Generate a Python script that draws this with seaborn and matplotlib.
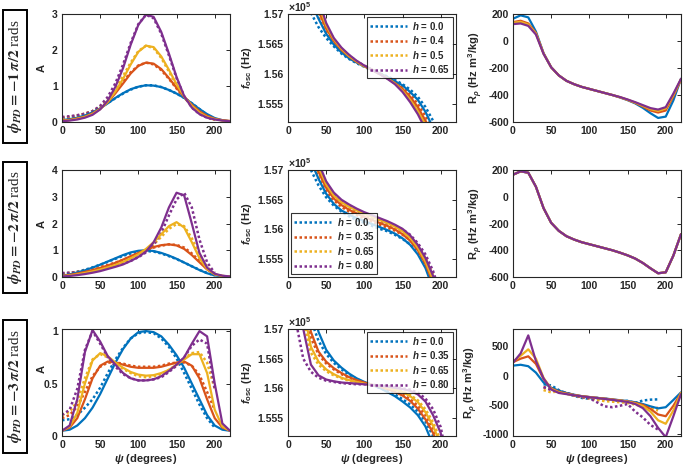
import numpy as np
import matplotlib
matplotlib.use("Agg")
import matplotlib.pyplot as plt
from matplotlib.patches import Rectangle
import seaborn as sns

# ---- data -----------------------------------------------------------------
H_ROW1 = ["0.0", "0.4", "0.5", "0.65"]
H_ROW23 = ["0.0", "0.35", "0.65", "0.80"]
PHASES = ["-1", "-2", "-3"]

PSI = np.arange(0, 221, 10)          # model curves (A, R)
PSI_MEAS = np.arange(0, 201, 10)     # measured A
PSI_F = np.arange(10, 211, 10)       # f_osc curves
PSI_R_MEAS = np.arange(40, 191, 10)  # measured R (row 3)

# amplitude A, model (solid) / measured (dotted), order h: low -> high
A1_model = [
    [0.05, 0.08, 0.12, 0.18, 0.27, 0.38, 0.52, 0.67, 0.80, 0.91, 0.98, 1.02, 1.01, 0.97, 0.89, 0.79, 0.67, 0.52, 0.36, 0.22, 0.11, 0.05, 0.02],
    [0.04, 0.06, 0.10, 0.15, 0.24, 0.37, 0.55, 0.80, 1.07, 1.35, 1.56, 1.65, 1.62, 1.47, 1.22, 0.95, 0.70, 0.48, 0.30, 0.17, 0.09, 0.05, 0.03],
    [0.03, 0.05, 0.09, 0.14, 0.22, 0.36, 0.56, 0.85, 1.20, 1.60, 1.95, 2.12, 2.08, 1.82, 1.45, 1.05, 0.71, 0.45, 0.26, 0.14, 0.08, 0.04, 0.02],
    [0.02, 0.04, 0.07, 0.12, 0.20, 0.35, 0.60, 0.98, 1.50, 2.15, 2.70, 2.98, 2.92, 2.50, 1.90, 1.25, 0.72, 0.40, 0.22, 0.12, 0.07, 0.04, 0.02],
]
A1_meas = [
    [0.10, 0.13, 0.17, 0.22, 0.30, 0.40, 0.53, 0.66, 0.79, 0.90, 0.98, 1.02, 1.02, 0.97, 0.89, 0.79, 0.67, 0.52, 0.36, 0.20, 0.08],
    [0.12, 0.14, 0.18, 0.23, 0.30, 0.42, 0.60, 0.85, 1.12, 1.38, 1.57, 1.65, 1.60, 1.44, 1.20, 0.93, 0.68, 0.46, 0.28, 0.15, 0.07],
    [0.12, 0.14, 0.18, 0.23, 0.30, 0.43, 0.63, 0.92, 1.28, 1.65, 1.97, 2.12, 2.05, 1.78, 1.40, 1.02, 0.69, 0.43, 0.25, 0.13, 0.06],
    [0.14, 0.16, 0.19, 0.23, 0.30, 0.45, 0.70, 1.08, 1.60, 2.20, 2.72, 2.98, 2.88, 2.45, 1.85, 1.22, 0.72, 0.40, 0.22, 0.12, 0.06],
]
A2_model = [
    [0.05, 0.10, 0.17, 0.25, 0.35, 0.46, 0.58, 0.70, 0.82, 0.92, 0.98, 1.00, 0.97, 0.90, 0.80, 0.68, 0.54, 0.40, 0.26, 0.14, 0.06, 0.03, 0.01],
    [0.04, 0.08, 0.13, 0.19, 0.26, 0.34, 0.43, 0.53, 0.65, 0.78, 0.90, 1.02, 1.12, 1.19, 1.22, 1.18, 1.05, 0.82, 0.55, 0.28, 0.10, 0.04, 0.02],
    [0.03, 0.06, 0.10, 0.15, 0.21, 0.28, 0.36, 0.45, 0.56, 0.70, 0.85, 1.05, 1.30, 1.60, 1.90, 2.05, 1.85, 1.30, 0.70, 0.30, 0.10, 0.04, 0.02],
    [0.02, 0.04, 0.07, 0.11, 0.16, 0.22, 0.30, 0.38, 0.47, 0.60, 0.75, 0.95, 1.30, 1.85, 2.60, 3.15, 3.05, 2.00, 0.90, 0.35, 0.12, 0.05, 0.02],
]
A2_meas = [
    [0.12, 0.15, 0.20, 0.27, 0.36, 0.46, 0.57, 0.68, 0.79, 0.88, 0.95, 0.97, 0.95, 0.88, 0.78, 0.67, 0.54, 0.40, 0.27, 0.15, 0.06],
    [0.12, 0.15, 0.19, 0.24, 0.30, 0.37, 0.45, 0.54, 0.64, 0.76, 0.88, 1.00, 1.10, 1.17, 1.22, 1.20, 1.10, 0.88, 0.60, 0.30, 0.10],
    [0.13, 0.15, 0.18, 0.22, 0.27, 0.33, 0.40, 0.48, 0.58, 0.70, 0.84, 1.00, 1.22, 1.50, 1.80, 1.98, 1.90, 1.45, 0.85, 0.38, 0.10],
    [0.15, 0.16, 0.18, 0.21, 0.25, 0.30, 0.36, 0.43, 0.50, 0.60, 0.74, 0.92, 1.20, 1.65, 2.30, 2.90, 3.15, 2.60, 1.40, 0.55, 0.15],
]
A3_model = [
    [0.05, 0.06, 0.10, 0.17, 0.27, 0.40, 0.55, 0.70, 0.83, 0.93, 0.99, 1.00, 0.99, 0.95, 0.87, 0.77, 0.65, 0.50, 0.35, 0.20, 0.10, 0.06, 0.05],
    [0.05, 0.08, 0.17, 0.35, 0.55, 0.67, 0.71, 0.70, 0.68, 0.66, 0.65, 0.65, 0.65, 0.66, 0.68, 0.70, 0.71, 0.67, 0.55, 0.35, 0.17, 0.08, 0.05],
    [0.05, 0.09, 0.22, 0.50, 0.72, 0.79, 0.76, 0.70, 0.65, 0.61, 0.585, 0.575, 0.58, 0.60, 0.63, 0.68, 0.73, 0.78, 0.78, 0.60, 0.25, 0.09, 0.05],
    [0.05, 0.10, 0.35, 0.80, 1.01, 0.90, 0.76, 0.68, 0.60, 0.55, 0.53, 0.53, 0.54, 0.57, 0.62, 0.68, 0.75, 0.88, 1.00, 0.95, 0.50, 0.12, 0.05],
]
A3_meas = [
    [0.15, 0.16, 0.20, 0.27, 0.35, 0.46, 0.60, 0.73, 0.84, 0.93, 0.98, 0.99, 0.98, 0.93, 0.85, 0.74, 0.60, 0.45, 0.30, 0.17, 0.08],
    [0.17, 0.20, 0.28, 0.42, 0.57, 0.66, 0.70, 0.70, 0.69, 0.67, 0.66, 0.66, 0.66, 0.67, 0.69, 0.70, 0.70, 0.67, 0.58, 0.42, 0.25],
    [0.20, 0.23, 0.33, 0.55, 0.73, 0.78, 0.75, 0.69, 0.64, 0.60, 0.57, 0.56, 0.57, 0.59, 0.63, 0.68, 0.74, 0.79, 0.80, 0.70, 0.45],
    [0.20, 0.25, 0.45, 0.82, 1.00, 0.88, 0.75, 0.66, 0.59, 0.55, 0.53, 0.53, 0.54, 0.56, 0.61, 0.67, 0.75, 0.86, 0.92, 0.88, 0.45],
]

# oscillation frequency f_osc in units of 1e5 Hz
F1_model = [
    [1.5795, 1.5755, 1.5720, 1.5692, 1.5667, 1.5649, 1.5636, 1.5626, 1.5619, 1.5613, 1.5607, 1.5601, 1.5595, 1.5588, 1.5581, 1.5570, 1.5557, 1.5537, 1.5510, 1.5475, 1.5430],
    [1.5840, 1.5790, 1.5745, 1.5705, 1.5676, 1.5655, 1.5640, 1.5629, 1.5620, 1.5613, 1.5607, 1.5600, 1.5593, 1.5585, 1.5575, 1.5562, 1.5545, 1.5522, 1.5492, 1.5450, 1.5400],
    [1.5860, 1.5810, 1.5760, 1.5715, 1.5681, 1.5658, 1.5642, 1.5630, 1.5621, 1.5613, 1.5607, 1.5600, 1.5593, 1.5584, 1.5572, 1.5557, 1.5538, 1.5515, 1.5480, 1.5440, 1.5390],
    [1.5890, 1.5830, 1.5775, 1.5725, 1.5685, 1.5660, 1.5644, 1.5632, 1.5622, 1.5614, 1.5607, 1.5600, 1.5592, 1.5583, 1.5570, 1.5553, 1.5533, 1.5508, 1.5470, 1.5430, 1.5380],
]
F1_meas = [
    [1.5770, 1.5735, 1.5702, 1.5678, 1.5660, 1.5646, 1.5634, 1.5625, 1.5618, 1.5612, 1.5606, 1.5601, 1.5596, 1.5590, 1.5583, 1.5574, 1.5562, 1.5545, 1.5522, 1.5490, 1.5450],
    [1.5810, 1.5765, 1.5728, 1.5695, 1.5670, 1.5652, 1.5638, 1.5628, 1.5620, 1.5613, 1.5607, 1.5601, 1.5594, 1.5587, 1.5578, 1.5566, 1.5550, 1.5530, 1.5502, 1.5460, 1.5420],
    [1.5830, 1.5780, 1.5740, 1.5703, 1.5675, 1.5655, 1.5640, 1.5629, 1.5620, 1.5613, 1.5607, 1.5600, 1.5594, 1.5586, 1.5575, 1.5561, 1.5543, 1.5521, 1.5490, 1.5450, 1.5410],
    [1.5850, 1.5800, 1.5755, 1.5712, 1.5680, 1.5658, 1.5642, 1.5631, 1.5621, 1.5614, 1.5607, 1.5600, 1.5593, 1.5585, 1.5573, 1.5558, 1.5538, 1.5514, 1.5480, 1.5440, 1.5400],
]
F2_model = [
    [1.5810, 1.5760, 1.5715, 1.5685, 1.5660, 1.5643, 1.5632, 1.5625, 1.5619, 1.5614, 1.5609, 1.5604, 1.5599, 1.5593, 1.5585, 1.5574, 1.5558, 1.5535, 1.5500, 1.5460, 1.5410],
    [1.5830, 1.5780, 1.5735, 1.5697, 1.5670, 1.5652, 1.5641, 1.5633, 1.5627, 1.5621, 1.5616, 1.5611, 1.5606, 1.5600, 1.5592, 1.5581, 1.5565, 1.5542, 1.5510, 1.5470, 1.5420],
    [1.5850, 1.5795, 1.5748, 1.5705, 1.5676, 1.5657, 1.5646, 1.5638, 1.5632, 1.5626, 1.5621, 1.5616, 1.5611, 1.5605, 1.5597, 1.5586, 1.5569, 1.5546, 1.5515, 1.5475, 1.5430],
    [1.5870, 1.5810, 1.5760, 1.5712, 1.5681, 1.5662, 1.5650, 1.5642, 1.5635, 1.5629, 1.5624, 1.5619, 1.5614, 1.5608, 1.5601, 1.5590, 1.5574, 1.5552, 1.5522, 1.5480, 1.5430],
]
F2_meas = [
    [1.5780, 1.5735, 1.5700, 1.5674, 1.5654, 1.5640, 1.5630, 1.5622, 1.5616, 1.5611, 1.5606, 1.5601, 1.5597, 1.5591, 1.5584, 1.5575, 1.5561, 1.5540, 1.5510, 1.5470, 1.5420],
    [1.5800, 1.5755, 1.5718, 1.5687, 1.5665, 1.5649, 1.5638, 1.5630, 1.5624, 1.5618, 1.5613, 1.5608, 1.5603, 1.5598, 1.5591, 1.5582, 1.5568, 1.5548, 1.5518, 1.5480, 1.5430],
    [1.5820, 1.5770, 1.5730, 1.5695, 1.5671, 1.5654, 1.5643, 1.5635, 1.5629, 1.5623, 1.5618, 1.5613, 1.5608, 1.5603, 1.5596, 1.5587, 1.5573, 1.5553, 1.5524, 1.5485, 1.5440],
    [1.5840, 1.5785, 1.5742, 1.5703, 1.5676, 1.5659, 1.5647, 1.5639, 1.5632, 1.5626, 1.5621, 1.5616, 1.5611, 1.5606, 1.5600, 1.5591, 1.5577, 1.5558, 1.5530, 1.5490, 1.5440],
]
F3_model = [
    [1.5860, 1.5800, 1.5745, 1.5695, 1.5665, 1.5647, 1.5635, 1.5625, 1.5617, 1.5611, 1.5606, 1.5601, 1.5594, 1.5587, 1.5578, 1.5568, 1.5555, 1.5536, 1.5505, 1.5460, 1.5400],
    [1.5850, 1.5770, 1.5695, 1.5662, 1.5645, 1.5634, 1.5626, 1.5619, 1.5614, 1.5610, 1.5606, 1.5603, 1.5599, 1.5594, 1.5588, 1.5579, 1.5566, 1.5548, 1.5525, 1.5490, 1.5440],
    [1.5830, 1.5735, 1.5670, 1.5645, 1.5632, 1.5624, 1.5618, 1.5614, 1.5611, 1.5608, 1.5606, 1.5604, 1.5601, 1.5598, 1.5594, 1.5587, 1.5577, 1.5560, 1.5537, 1.5505, 1.5450],
    [1.5800, 1.5700, 1.5640, 1.5622, 1.5615, 1.5612, 1.5610, 1.5609, 1.5608, 1.5607, 1.5606, 1.5604, 1.5603, 1.5601, 1.5599, 1.5596, 1.5590, 1.5578, 1.5555, 1.5525, 1.5450],
]
F3_meas = [
    [1.5840, 1.5775, 1.5715, 1.5680, 1.5658, 1.5643, 1.5632, 1.5623, 1.5616, 1.5610, 1.5606, 1.5601, 1.5596, 1.5590, 1.5582, 1.5573, 1.5561, 1.5544, 1.5520, 1.5480, 1.5430],
    [1.5820, 1.5745, 1.5685, 1.5657, 1.5642, 1.5632, 1.5624, 1.5618, 1.5613, 1.5609, 1.5606, 1.5603, 1.5600, 1.5596, 1.5590, 1.5582, 1.5571, 1.5555, 1.5532, 1.5500, 1.5450],
    [1.5800, 1.5715, 1.5660, 1.5640, 1.5629, 1.5622, 1.5617, 1.5613, 1.5610, 1.5608, 1.5606, 1.5604, 1.5602, 1.5599, 1.5595, 1.5589, 1.5580, 1.5565, 1.5543, 1.5512, 1.5460],
    [1.5715, 1.5650, 1.5628, 1.5618, 1.5613, 1.5611, 1.5609, 1.5608, 1.5607, 1.5607, 1.5606, 1.5605, 1.5604, 1.5602, 1.5600, 1.5598, 1.5593, 1.5583, 1.5565, 1.5535, 1.5470],
]

# responsivity R_rho (Hz m^3/kg)
R1_model = [
    [165, 190, 175, 70, -90, -195, -255, -295, -320, -340, -355, -370, -385, -400, -418, -438, -462, -495, -535, -570, -560, -440, -280],
    [140, 150, 130, 60, -92, -195, -255, -295, -320, -340, -355, -370, -385, -400, -417, -436, -458, -485, -515, -530, -515, -410, -285],
    [135, 142, 122, 55, -93, -195, -255, -295, -320, -340, -355, -370, -385, -400, -416, -435, -456, -480, -505, -518, -500, -400, -282],
    [125, 130, 112, 48, -95, -195, -255, -295, -320, -340, -355, -370, -385, -400, -415, -433, -453, -475, -497, -508, -490, -390, -280],
]
R2_model = [165, 190, 180, 75, -85, -195, -255, -295, -320, -340, -355, -370, -385, -400, -418, -438, -462, -495, -535, -572, -565, -440, -280]
R3_model = [
    [170, 185, 160, 50, -120, -210, -260, -300, -330, -355, -370, -385, -395, -410, -425, -440, -460, -490, -530, -565, -545, -420, -290],
    [230, 290, 330, 200, -60, -220, -280, -310, -335, -355, -370, -385, -398, -412, -428, -445, -470, -505, -575, -670, -700, -520, -300],
    [240, 340, 450, 290, -40, -230, -290, -315, -338, -357, -372, -386, -400, -415, -430, -450, -480, -525, -620, -770, -830, -600, -300],
    [220, 380, 690, 250, -50, -240, -300, -320, -340, -358, -373, -387, -402, -418, -435, -455, -490, -560, -700, -900, -1060, -700, -320],
]
R3_meas = [
    [-150, -170, -250, -310, -350, -385, -400, -385, -400, -420, -440, -435, -470, -430, -415, -410],
    [-200, -230, -260, -300, -340, -370, -390, -400, -410, -420, -440, -450, -480, -510, -540, -560],
    [-250, -290, -270, -310, -345, -375, -395, -420, -440, -450, -460, -470, -500, -530, -570, -600],
    [-200, -250, -270, -300, -340, -370, -390, -460, -530, -545, -520, -490, -620, -720, -850, -930],
]

COLORS = ["#0072BD", "#D95319", "#EDB120", "#7E2F8E"]
DOT = (0, (1, 1))

# ---- style ----------------------------------------------------------------
sns.set_style("white")
plt.rcParams["font.family"] = ["Liberation Sans", "DejaVu Sans"]
plt.rcParams["font.weight"] = "bold"
plt.rcParams["axes.unicode_minus"] = False
plt.rcParams["mathtext.fontset"] = "custom"
plt.rcParams["mathtext.rm"] = "Liberation Sans:bold"
plt.rcParams["mathtext.bf"] = "Liberation Sans:bold"
plt.rcParams["mathtext.it"] = "Liberation Sans:italic:bold"
plt.rcParams["mathtext.sf"] = "Liberation Sans:bold"

fig = plt.figure(figsize=(6.85, 4.68), dpi=100)
W, H = 685, 468
TICK_FS = 7.5
LAB_FS = 8


def make_ax(l, r, t, b):
    ax = fig.add_axes([l / W, 1 - b / H, (r - l) / W, (b - t) / H])
    ax.tick_params(direction="in", top=True, right=True, length=3, width=0.7,
                   labelsize=TICK_FS, colors="#262626", pad=3)
    for s in ax.spines.values():
        s.set_linewidth(0.8)
        s.set_color("#262626")
    ax.set_xlim(0, 220)
    ax.set_xticks([0, 50, 100, 150, 200])
    return ax


def draw(ax, x, curves, ls, lw, labels=None):
    for i, y in enumerate(curves):
        sns.lineplot(x=x, y=y, color=COLORS[i], ax=ax, linestyle=ls, linewidth=lw,
                     label=None if labels is None else labels[i], legend=False)


COLS = [(62, 230), (288, 456), (513, 681)]
ROWS = [(14, 122), (170, 277), (329, 436)]
BOXES = [(10, 143), (162, 293), (320, 453)]

A_data = [(A1_model, A1_meas, 3), (A2_model, A2_meas, 4), (A3_model, A3_meas, 1.02)]
F_data = [(F1_model, F1_meas), (F2_model, F2_meas), (F3_model, F3_meas)]
legend_locs = ["upper right", "lower left", "upper right"]
h_lists = [H_ROW1, H_ROW23, H_ROW23]

for r in range(3):
    t, b = ROWS[r]

    # amplitude
    ax = make_ax(COLS[0][0], COLS[0][1], t, b)
    model, meas, ytop = A_data[r]
    draw(ax, PSI_MEAS, meas, DOT, 1.8)
    draw(ax, PSI, model, "-", 1.6)
    ax.set_ylim(0, ytop)
    ax.set_ylabel("A", fontsize=LAB_FS, fontweight="bold")
    if r == 2:
        ax.set_yticks([0, 0.5, 1])
        ax.set_yticklabels(["0", "0.5", "1"])
        ax.yaxis.set_label_coords(-0.09, 0.63)
    else:
        ax.set_yticks(range(int(ytop) + 1))
        ax.yaxis.set_label_coords(-0.09, 0.5)

    # frequency
    ax = make_ax(COLS[1][0], COLS[1][1], t, b)
    model, meas = F_data[r]
    labels = ["$h$ = " + h for h in h_lists[r]]
    draw(ax, PSI_F, meas, DOT, 1.8, labels)
    draw(ax, PSI_F, model, "-", 1.6)
    ax.set_ylim(1.552, 1.570)
    ax.set_yticks([1.555, 1.56, 1.565, 1.57])
    ax.set_yticklabels(["1.555", "1.56", "1.565", "1.57"])
    ax.set_ylabel(r"$f_{\mathrm{osc}}$ (Hz)", fontsize=LAB_FS, fontweight="bold", labelpad=3)
    ax.text(0.0, 1.0, r"$\times\mathrm{10}^{5}$", transform=ax.transAxes,
            fontsize=7.5, ha="left", va="bottom", color="#262626")
    leg = ax.legend(loc=legend_locs[r], fontsize=7, handlelength=3.8,
                    frameon=True, fancybox=False, borderpad=0.3,
                    labelspacing=0.25, handletextpad=0.6, borderaxespad=0.3)
    leg.get_frame().set_edgecolor("black")
    leg.get_frame().set_linewidth(0.8)
    for txt in leg.get_texts():
        txt.set_fontweight("bold")

    # responsivity
    ax = make_ax(COLS[2][0], COLS[2][1], t, b)
    if r == 0:
        draw(ax, PSI, R1_model, "-", 1.6)
        ax.set_ylim(-600, 200)
        ax.set_yticks([-600, -400, -200, 0, 200])
    elif r == 1:
        draw(ax, PSI, [R2_model] * 4, "-", 1.6)
        ax.set_ylim(-600, 200)
        ax.set_yticks([-600, -400, -200, 0, 200])
    else:
        draw(ax, PSI_R_MEAS, R3_meas, DOT, 1.8)
        draw(ax, PSI, R3_model, "-", 1.6)
        ax.set_ylim(-1040, 800)
        ax.set_yticks([-1000, -500, 0, 500])
    ax.set_ylabel(r"R$_{\rho}$ (Hz m$^{3}$/kg)", fontsize=LAB_FS, fontweight="bold", labelpad=2)

    for a in fig.axes[-3:]:
        for lab in a.get_xticklabels() + a.get_yticklabels():
            lab.set_fontweight("bold")
        if r == 2:
            a.set_xlabel(r"$\psi$ (degrees)", fontsize=LAB_FS, fontweight="bold", labelpad=1)

    # boxed phase label on the left
    bt, bb = BOXES[r]
    fig.patches.append(Rectangle((3 / W, 1 - bb / H), 24 / W, (bb - bt) / H,
                                 transform=fig.transFigure, fc="white", ec="black",
                                 lw=1.4, zorder=0))
    fig.text(15.5 / W, 1 - (bt + bb) / 2 / H,
             r"$\phi_{PD} = " + PHASES[r] + r"\,\pi/2$ rads",
             rotation=90, ha="center", va="center", fontsize=11,
             family="Liberation Serif", fontweight="normal", math_fontfamily="stix")

fig.savefig("out.png", dpi=100)
